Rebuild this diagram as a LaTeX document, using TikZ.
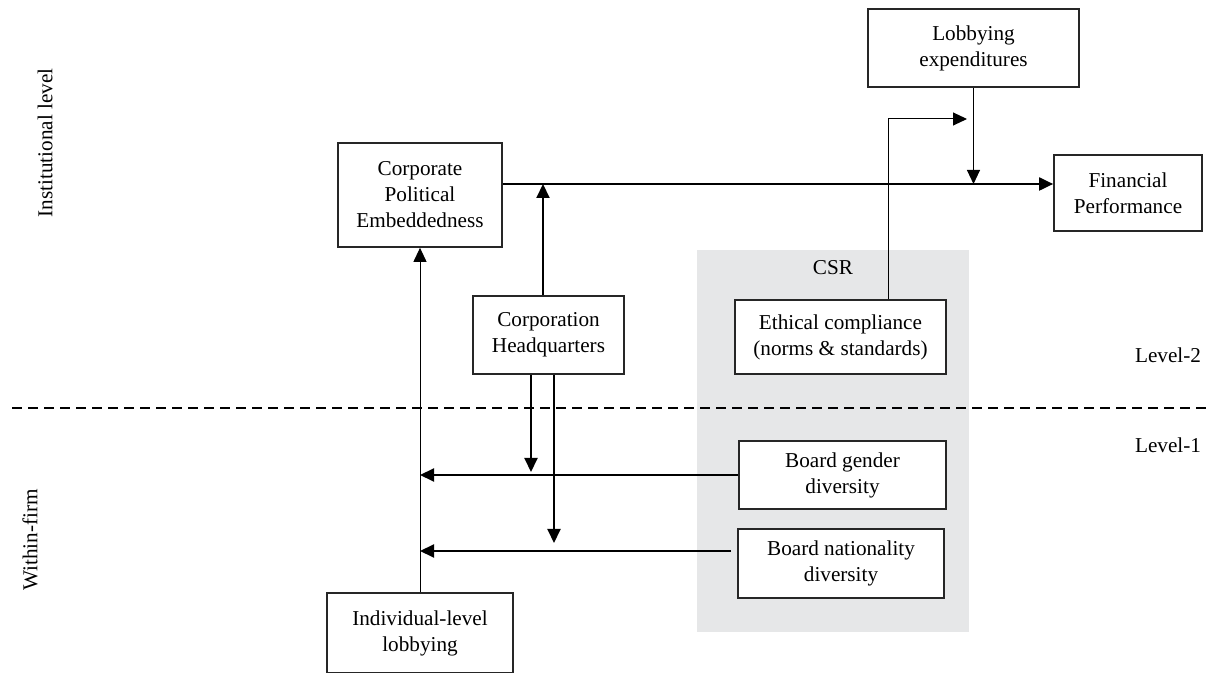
\documentclass[tikz,border=0pt]{standalone}
\usepackage{fontspec}
\setmainfont{Liberation Serif}
\usetikzlibrary{arrows.meta,positioning}
\definecolor{csrgray}{RGB}{230,231,232}

\begin{document}
\begin{tikzpicture}[x=0.5pt,y=-0.5pt,>={Triangle[length=7pt,width=6.5pt]},font=\fontsize{10.6}{13}\selectfont]
  \tikzstyle{block}=[rectangle,draw=black!85,line width=0.85pt,fill=white,
              align=center,inner sep=0pt]
  \tikzstyle{link}=[->,line width=1pt]
  \tikzstyle{thinlink}=[->,line width=0.5pt]
    \clip (0,0) rectangle (1212,673);
    \fill[csrgray] (697,250) rectangle (969,632);
    \node (csr) at (833,268) {CSR};
    \draw[dashed,dash pattern=on 5pt off 3pt,line width=0.6pt] (12,408) -- (1212,408);
    \node [block,minimum width=82pt,minimum height=52pt] (cpe) at (420,195) {Corporate\\Political\\Embeddedness};
    \node [block,minimum width=75.5pt,minimum height=39pt] (hq) at (548.5,335) {Corporation\\Headquarters};
    \node [block,minimum width=105.5pt,minimum height=39pt] (lob) at (973.5,48) {Lobbying\\expenditures};
    \node [block,minimum width=74pt,minimum height=38pt] (fin) at (1128,193) {Financial\\Performance};
    \node [block,minimum width=105.5pt,minimum height=37pt] (eth) at (840.5,337) {Ethical compliance\\(norms \& standards)};
    \node [block,minimum width=103.5pt,minimum height=34pt] (gen) at (842.5,475) {Board gender\\diversity};
    \node [block,minimum width=103pt,minimum height=34.5pt] (nat) at (841,563.5) {Board nationality\\diversity};
    \node [block,minimum width=93pt,minimum height=40pt] (ind) at (420,633) {Individual-level\\lobbying};
    \node [rotate=90] (inst) at (45,143) {Institutional level};
    \node [rotate=90] (within) at (30,540) {Within-firm};
    \node (lvtwo) at (1168,355) {Level-2};
    \node (lvone) at (1168,445) {Level-1};
    \coordinate (mainline) at ([yshift=5.5pt]cpe.east);
    \coordinate (lobin) at (967,119);
    \coordinate (natout) at ([xshift=-3pt,yshift=6.25pt]nat.west);
    \draw[link] (mainline) -- (mainline -| fin.west);
    \draw[link] ([xshift=-2.75pt]hq.north) -- ([xshift=-2.75pt]hq.north |- mainline);
    \draw[thinlink] (lob.south) -- (lob.south |- mainline);
    \draw[thinlink] ([xshift=23.75pt]eth.north) |- (lobin);
    \draw[link,shorten >=1.5pt] ([xshift=-8.75pt]hq.south) -- ([xshift=-8.75pt]hq.south |- gen.west);
    \draw[link,shorten >=4pt] ([xshift=2.75pt]hq.south) -- ([xshift=2.75pt]hq.south |- natout);
    \draw[link] (gen.west) -- (gen.west -| ind.north);
    \draw[link] (natout) -- (natout -| ind.north);
    \draw[thinlink] (ind.north) -- (cpe.south);
\end{tikzpicture}
\end{document}
